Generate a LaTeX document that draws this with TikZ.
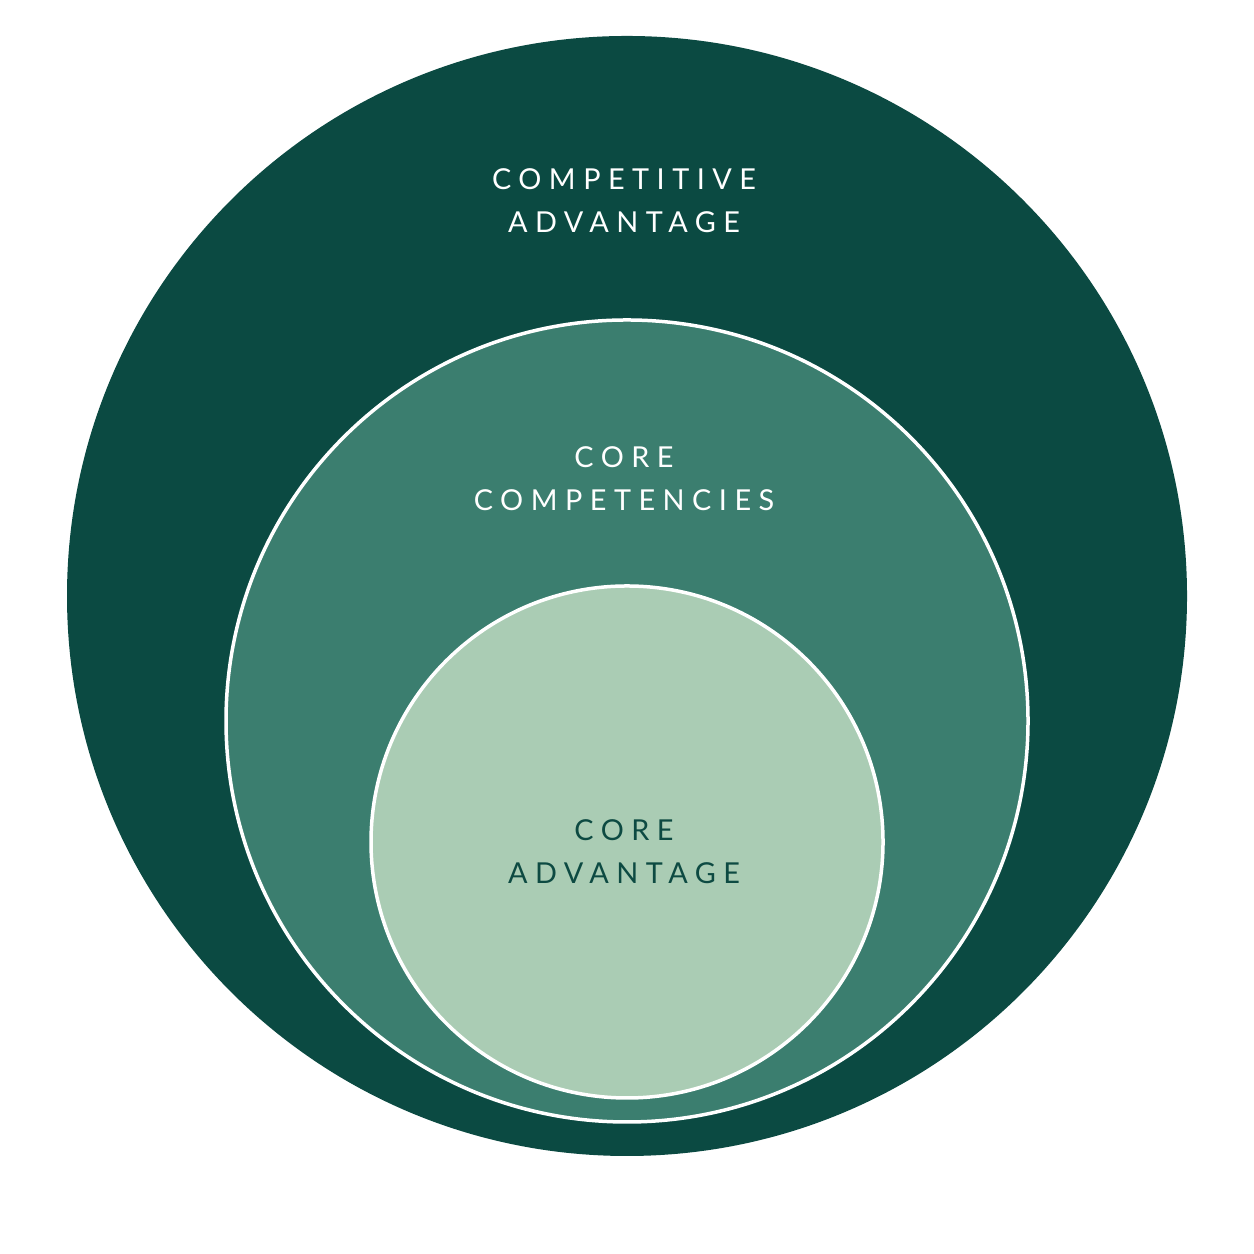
\documentclass[tikz,border=0pt]{standalone}
\usepackage{fontspec}
\setmainfont{Lato}
\usetikzlibrary{positioning}
\definecolor{outergreen}{HTML}{0B4A42}
\definecolor{midgreen}{HTML}{3B7E6F}
\definecolor{innergreen}{HTML}{AACCB4}
\definecolor{labeldark}{HTML}{0D4A42}
\begin{document}
\begin{tikzpicture}
	\tikzset{
		ring/.style={circle, inner sep=0pt},
		label/.style={align=center, font=\fontsize{8.2}{12.2}\selectfont\addfontfeatures{LetterSpace=26}},
	}
	\useasboundingbox (0,0) rectangle (12.54,12.54);
	
	% circles
	\node[ring, fill=outergreen, minimum size=11.2cm] (outer) at (6.27,6.58) {};
	\node[ring, fill=midgreen, draw=white, line width=.35mm, minimum size=8.02cm] (mid) at (6.27,5.33) {};
	\node[ring, fill=innergreen, draw=white, line width=.35mm, minimum size=5.12cm] (inner) at (6.27,4.12) {};
	
	% labels
	\node[label, text=white] (outerlbl) at (6.24,10.53) {COMPETITIVE\\ADVANTAGE};
	\node[label, text=white] (midlbl) at (6.24,7.75) {CORE\\COMPETENCIES};
	\node[label, text=labeldark] (innerlbl) at (6.24,4.02) {CORE\\ADVANTAGE};
\end{tikzpicture}
\end{document}
